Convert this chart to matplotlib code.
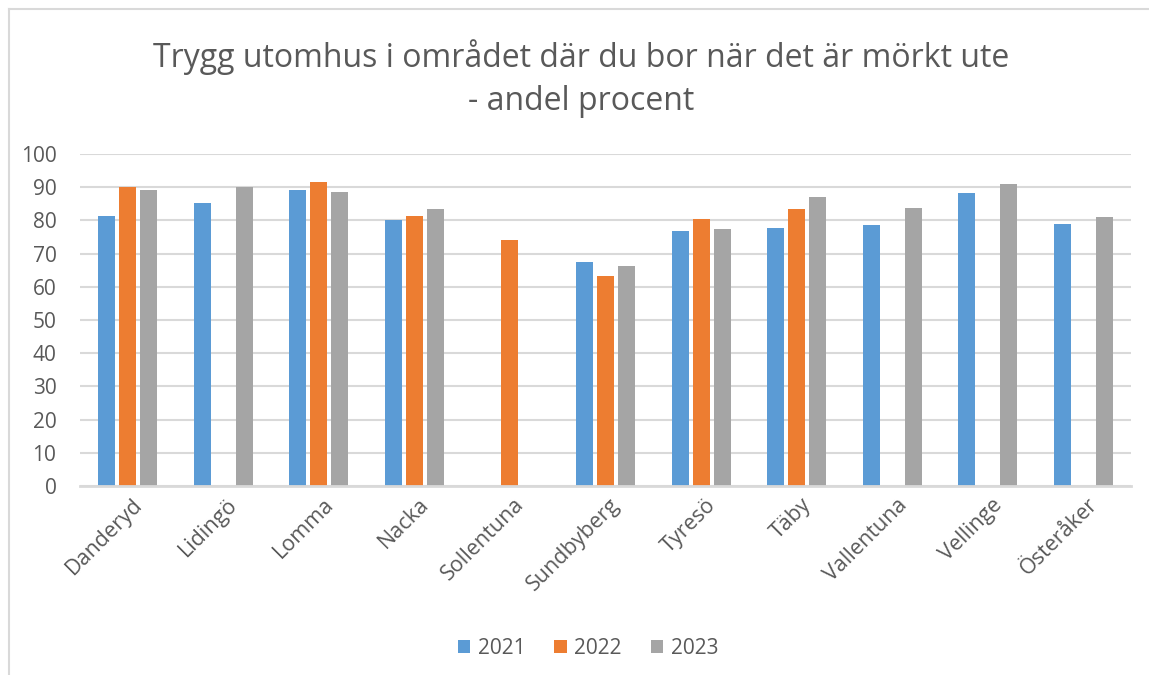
import matplotlib
matplotlib.use("Agg")
import matplotlib.pyplot as plt
from matplotlib.lines import Line2D
from matplotlib.patches import Patch
import matplotlib.transforms as mtransforms
import numpy as np

plt.rcParams['font.family'] = ['Open Sans', 'DejaVu Sans']

categories = ["Danderyd", "Lidingö", "Lomma", "Nacka", "Sollentuna", "Sundbyberg",
              "Tyresö", "Täby", "Vallentuna", "Vellinge", "Österåker"]
years = ["2021", "2022", "2023"]
values_2021 = [81.3, 85.2, 89.2, 80.1, None, 67.5, 76.8, 77.7, 78.6, 88.3, 78.9]
values_2022 = [90.0, None, 91.6, 81.3, 74.1, 63.3, 80.4, 83.4, None, None, None]
values_2023 = [89.2, 90.0, 88.6, 83.4, None, 66.3, 77.4, 87.0, 83.7, 91.0, 81.0]
yticks = [0, 10, 20, 30, 40, 50, 60, 70, 80, 90, 100]

colors = ["#5B9BD5", "#ED7D31", "#A5A5A5"]
text_color = "#595959"
W, H = 1149, 675

fig = plt.figure(figsize=(W / 100, H / 100), dpi=100)
fig.patch.set_facecolor("white")

# outer chart frame (left and top edges visible)
fig.add_artist(Line2D([9 / W, 9 / W], [0, 1 - 9 / H], transform=fig.transFigure,
                      color="#D9D9D9", lw=1.5))
fig.add_artist(Line2D([9 / W, 1], [1 - 9 / H, 1 - 9 / H], transform=fig.transFigure,
                      color="#D9D9D9", lw=1.5))

left, right, top, bottom = 80, 1131, 154, 486
ax = fig.add_axes([left / W, (H - bottom) / H, (right - left) / W, (bottom - top) / H])

x = np.arange(len(categories))
width = 0.178
offsets = [-0.22, 0.0, 0.22]
series = [values_2021, values_2022, values_2023]
for vals, off, col in zip(series, offsets, colors):
    xs = [xi + off for xi, v in zip(x, vals) if v is not None]
    hs = [v for v in vals if v is not None]
    ax.bar(xs, hs, width=width, color=col, zorder=3)

ax.set_xlim(-0.5, len(categories) - 0.5)
ax.set_ylim(0, 100)
ax.set_yticks(yticks)
ax.set_yticklabels([str(t) for t in yticks])
ax.yaxis.grid(True, color="#D9D9D9", lw=1.5, zorder=0)
ax.set_axisbelow(True)
for s in ["top", "right", "left"]:
    ax.spines[s].set_visible(False)
ax.spines["bottom"].set_color("#D9D9D9")
ax.spines["bottom"].set_linewidth(2)
ax.spines["bottom"].set_zorder(4)
ax.tick_params(axis="both", length=0, colors=text_color)
ax.tick_params(axis="y", pad=17, labelsize=15)
ax.set_xticks(x)
ax.set_xticklabels(categories, rotation=45, ha="right", rotation_mode="anchor")
ax.tick_params(axis="x", pad=6, labelsize=15.5)
shift = mtransforms.ScaledTranslation(4 / 100, 0, fig.dpi_scale_trans)
for lbl in ax.get_xticklabels():
    lbl.set_transform(lbl.get_transform() + shift)

cx = 581 / W
fig.text(cx, 1 - 57 / H, "Trygg utomhus i området där du bor när det är mörkt ute",
         ha="center", va="center", fontsize=23, color=text_color)
fig.text(cx, 1 - 102 / H, "- andel procent",
         ha="center", va="center", fontsize=23, color=text_color)

handles = [Patch(facecolor=c, edgecolor="none") for c in colors]
fig.legend(handles, years, loc="center", bbox_to_anchor=(588 / W, 1 - 648 / H), ncol=3,
           frameon=False, fontsize=15, labelcolor=text_color, handlelength=0.6,
           handleheight=0.6, handletextpad=0.35, columnspacing=1.4)

fig.savefig("out.png", dpi=100, facecolor="white")
